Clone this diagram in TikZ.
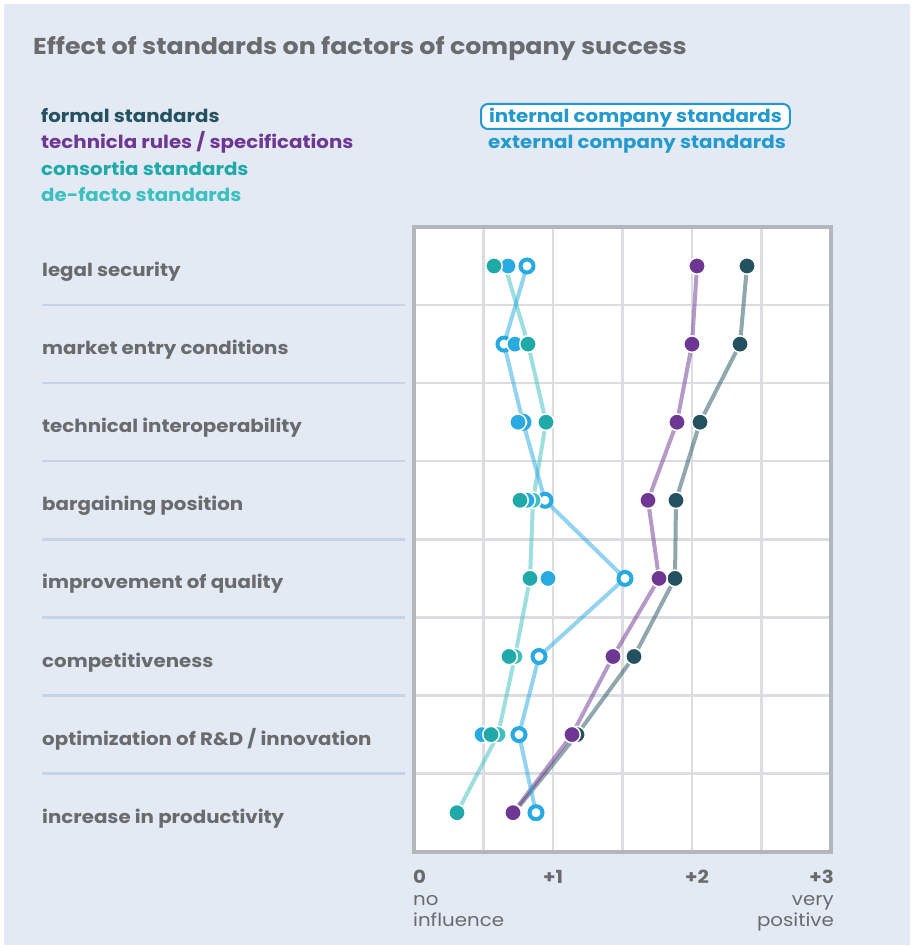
\documentclass[tikz,border=0pt]{standalone}
\usepackage{fontspec}
\setmainfont{Poppins}[FakeStretch=1.1]
\pgfdeclarelayer{back}
\pgfdeclarelayer{lines}
\pgfsetlayers{back,lines,main}
\definecolor{panel}{HTML}{E3EAF3}
\definecolor{txtgray}{HTML}{6A6B6F}
\definecolor{sepline}{HTML}{C7D4E3}
\definecolor{gridc}{HTML}{DCDDE1}
\definecolor{framec}{HTML}{B3B6BB}
\definecolor{formalc}{HTML}{24515F}
\definecolor{techc}{HTML}{6D3793}
\definecolor{consc}{HTML}{1FA9A8}
\definecolor{defactoc}{HTML}{3CC0BF}
\definecolor{intc}{HTML}{27A9E1}
\definecolor{extc}{HTML}{29ABE2}
\definecolor{legblue}{HTML}{2299CF}
\tikzset{
  dot/.style={circle, inner sep=0pt, minimum size=16.5pt, draw=white, line width=1.5pt},
  ringdot/.style={circle, inner sep=0pt, minimum size=13pt, draw=intc, line width=4pt, fill=white},
  seriesline/.style={line width=4pt, opacity=0.5, line join=round},
  txt/.style={anchor=base west, inner sep=0pt},
  rowlabel/.style={txt, text=txtgray, font=\bfseries\fontsize{18}{22}\selectfont},
  legendtxt/.style={txt, font=\bfseries\fontsize{18}{22}\selectfont},
  axisnum/.style={inner sep=0pt, text=txtgray, font=\bfseries\fontsize{18}{22}\selectfont},
  axistxt/.style={inner sep=0pt, text=txtgray, font=\fontsize{18}{22}\selectfont},
}
\begin{document}
\begin{tikzpicture}[x=1pt,y=-1pt]
\useasboundingbox (0,0) rectangle (912,947);
\begin{pgfonlayer}{back}
  \fill[white] (0,0) rectangle (912,947);
  \fill[panel] (4,4) rectangle (910,945);
  % plot area
  \fill[white] (414,227) rectangle (831,852);
  \foreach \gx in {483.5,553,622.5,692,761.5}
    \draw[gridc, line width=2.5pt] (\gx,227) -- (\gx,852);
  \foreach \gy in {305,383.1,461.2,539.3,617.4,695.5,773.6}{
    \draw[gridc, line width=2.5pt] (414,\gy) -- (831,\gy);
    \draw[sepline, line width=2.5pt] (42,\gy) -- (405,\gy);
  }
  \draw[framec, line width=3.5pt] (414,227) rectangle (831,852);
\end{pgfonlayer}

% title
\node[txt, text=txtgray, font=\bfseries\fontsize{23}{27}\selectfont] (title) at (33,55) {Effect of standards on factors of company success};

% legend
\node[legendtxt, text=formalc] (lgf) at (41,122) {formal standards};
\node[legendtxt, text=techc] (lgt) at (41,148) {technicla rules / specifications};
\node[legendtxt, text=consc] (lgc) at (41,175) {consortia standards};
\node[legendtxt, text=defactoc] (lgd) at (41,201) {de-facto standards};
\node[legendtxt, text=legblue, draw=legblue, fill=white, line width=2pt, rounded corners=7pt,
      inner xsep=8pt, inner ysep=3pt, text height=15pt, text depth=4pt] (lgi) at (480,122) {internal company standards};
\node[legendtxt, text=legblue] (lge) at (488,148) {external company standards};

% row labels
\foreach \lab [count=\i] in {legal security, market entry conditions, technical interoperability, bargaining position, improvement of quality, competitiveness, optimization of R\&D / innovation, increase in productivity}
  \node[rowlabel] (lab\i) at (42,{276.5+78.1*(\i-1)}) {\lab};

% axis
\node[axisnum, anchor=base west] (ax0) at (413,883) {0};
\node[axisnum, anchor=base west] (ax1) at (543,883) {+1};
\node[axisnum, anchor=base west] (ax2) at (685,883) {+2};
\node[axisnum, anchor=base east] (ax3) at (834,883) {+3};
\node[axistxt, anchor=base west] (noinf1) at (413,905) {no};
\node[axistxt, anchor=base west] (noinf2) at (413,926) {influence};
\node[axistxt, anchor=base east] (vpos1) at (834,905) {very};
\node[axistxt, anchor=base east] (vpos2) at (834,926) {positive};

% data points (bottom to top)
\foreach \x [count=\i] in {527,504,523,545,625,539,519,536}
  \node[ringdot] (in\i) at (\x,{266+78.1*(\i-1)}) {};
\foreach \x [count=\i] in {505,528,546,533,530,515,498,457}
  \node[dot, fill=defactoc] (de\i) at (\x,{266+78.1*(\i-1)}) {};
\foreach \x [count=\i] in {508,515,518,527,548,509,482,513}
  \node[dot, fill=extc] (ex\i) at (\x,{266+78.1*(\i-1)}) {};
\foreach \x [count=\i] in {494,528,546,520,530,509,491,457}
  \node[dot, fill=consc] (co\i) at (\x,{266+78.1*(\i-1)}) {};
\foreach \x [count=\i] in {747,740,700,676,675,634,577,514}
  \node[dot, fill=formalc] (fo\i) at (\x,{266+78.1*(\i-1)}) {};
\foreach \x [count=\i] in {697,692,677,648,659,613,572,513}
  \node[dot, fill=techc] (te\i) at (\x,{266+78.1*(\i-1)}) {};

% series lines
\begin{pgfonlayer}{lines}
  \draw[seriesline, formalc] (fo1.center) \foreach \i in {2,...,8}{ -- (fo\i.center)};
  \draw[seriesline, techc] (te1.center) \foreach \i in {2,...,8}{ -- (te\i.center)};
  \draw[seriesline, defactoc] (de1.center) \foreach \i in {2,...,8}{ -- (de\i.center)};
  \draw[seriesline, intc] (in1.center) \foreach \i in {2,...,8}{ -- (in\i.center)};
\end{pgfonlayer}
\end{tikzpicture}
\end{document}
